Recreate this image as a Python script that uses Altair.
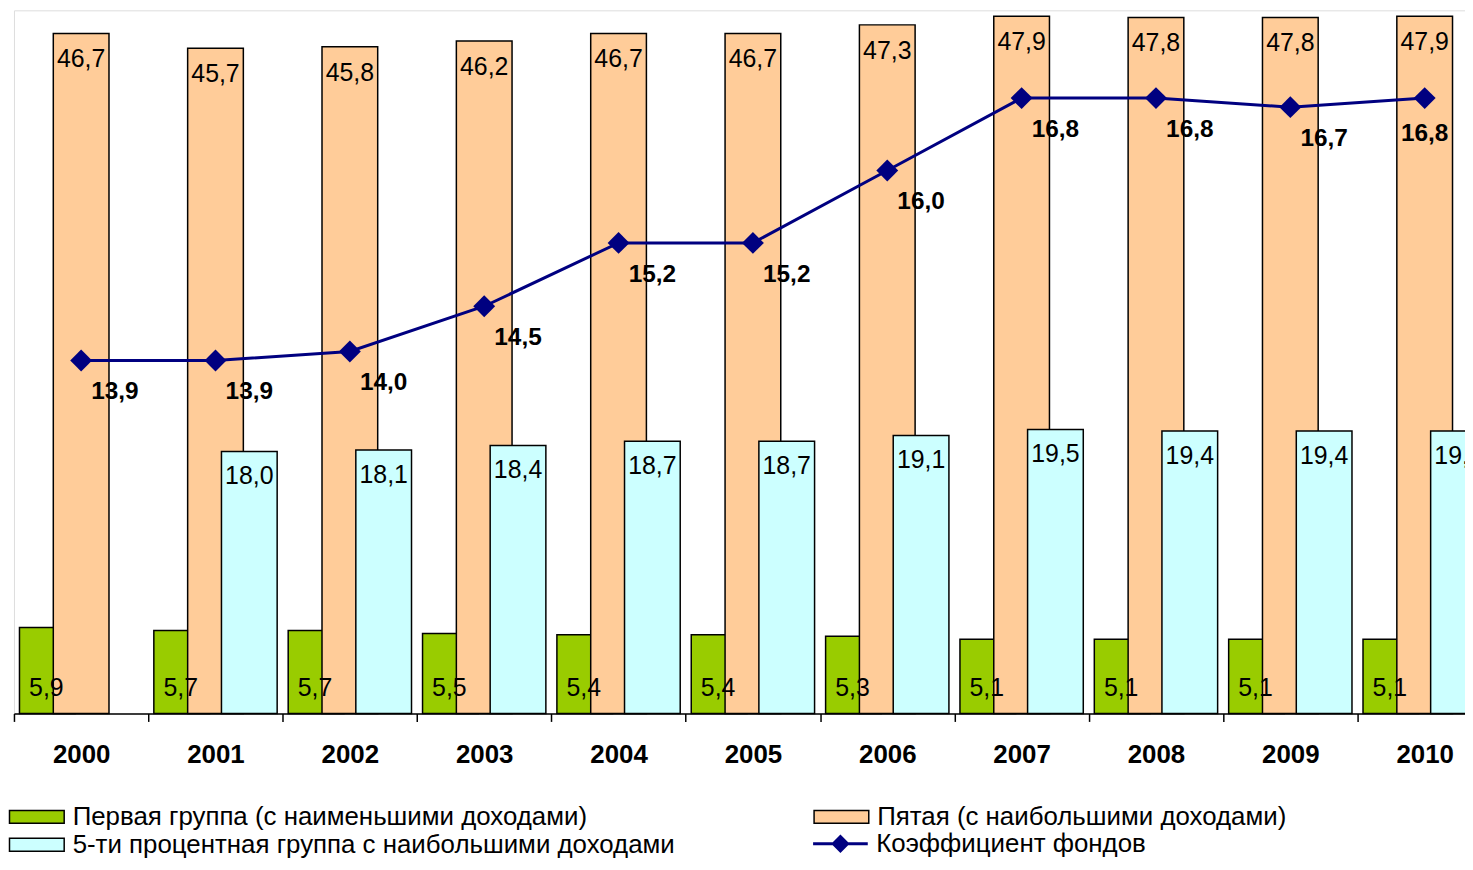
import altair as alt
import pandas as pd

years = ["2000", "2001", "2002", "2003", "2004", "2005", "2006", "2007", "2008", "2009", "2010"]
first_group = [5.9, 5.7, 5.7, 5.5, 5.4, 5.4, 5.3, 5.1, 5.1, 5.1, 5.1]
fifth_group = [46.7, 45.7, 45.8, 46.2, 46.7, 46.7, 47.3, 47.9, 47.8, 47.8, 47.9]
top5_group = [None, 18.0, 18.1, 18.4, 18.7, 18.7, 19.1, 19.5, 19.4, 19.4, 19.4]
fund_coef = [13.9, 13.9, 14.0, 14.5, 15.2, 15.2, 16.0, 16.8, 16.8, 16.7, 16.8]

S1 = "Первая группа (с наименьшими доходами)"
S5 = "Пятая (с наибольшими доходами)"
S5P = "5-ти процентная группа с наибольшими доходами"
LINE = "Коэффициент фондов"
# legend order (column-major grid): S1, S5P in column 1, S5 in column 2
legend_order = [S1, S5P, S5]
legend_colors = ["#99CC00", "#CCFFFF", "#FFCC99"]
NAVY = "#000080"
FONT = "Liberation Sans"


def fmt(v):
    return f"{v:.1f}".replace(".", ",")


rows = []
for s, vals in zip([S1, S5, S5P], [first_group, fifth_group, top5_group]):
    for yr, v in zip(years, vals):
        if v is None:
            continue
        rows.append({"year": yr, "series": s, "value": v, "label": fmt(v)})
bars = pd.DataFrame(rows)
line = pd.DataFrame({"year": years, "coef": fund_coef,
                     "label": [fmt(v) for v in fund_coef], "name": LINE})

x = alt.X("year:O", sort=years,
          scale=alt.Scale(paddingInner=0, paddingOuter=0, range=[0, 1486]),
          axis=alt.Axis(title=None, labelAngle=0, tickBand="extent",
                        domainColor="black", domainWidth=1.5,
                        tickColor="black", tickWidth=1.5, tickSize=8,
                        labelFont=FONT, labelFontSize=26, labelFontWeight="bold",
                        labelColor="black", labelPadding=20, grid=False))
ybar_scale = alt.Scale(domain=[0, 48.3], nice=False, zero=True)
ybar = alt.Y("value:Q", scale=ybar_scale, axis=None)
yline_scale = alt.Scale(domain=[10, 17.77], nice=False, zero=False)
yline = alt.Y("coef:Q", scale=yline_scale, axis=None)

# wide rectangle symbol drawn around a small nominal symbol size (13px)
RECT = "M-4.23,-1H4.23V1H-4.23Z"
LINE_SYM = "M-4.23,0H4.23M-1.1,0L0,-1.1L1.1,0L0,1.1Z"

fill = alt.Fill("series:N",
                scale=alt.Scale(domain=legend_order, range=legend_colors),
                legend=alt.Legend(title=None, orient="none", legendX=10, legendY=798,
                                  columns=2, columnPadding=136, rowPadding=2,
                                  symbolType=RECT, symbolSize=169,
                                  symbolStrokeColor="black", symbolStrokeWidth=1.5,
                                  labelFont=FONT, labelFontSize=26, labelColor="black",
                                  labelLimit=900, labelOffset=23, padding=0))

base = alt.Chart(bars)


def bar_layer(name, offset):
    return base.transform_filter(alt.datum.series == name).mark_bar(
        width=56, xOffset=offset, stroke="black", strokeWidth=1.5
    ).encode(x=x, y=ybar, fill=fill)


green = bar_layer(S1, -34)
orange = bar_layer(S5, 0)
cyan = bar_layer(S5P, 34)

txt = dict(font=FONT, fontSize=25, color="black", baseline="middle", align="center")
orange_lbl = base.transform_filter(alt.datum.series == S5).mark_text(dy=26, **txt).encode(
    x=x, y=ybar, text="label:N")
cyan_lbl = base.transform_filter(alt.datum.series == S5P).mark_text(dy=25, xOffset=34, **txt).encode(
    x=x, y=ybar, text="label:N")
green_lbl = base.transform_filter(alt.datum.series == S1).mark_text(dy=-26, xOffset=-35, **txt).encode(
    x=x, y=alt.Y(datum=0, scale=ybar_scale, axis=None), text="label:N")

lbase = alt.Chart(line)
line_mark = lbase.mark_line(strokeWidth=3).encode(
    x=x, y=yline,
    stroke=alt.Stroke("name:N", scale=alt.Scale(domain=[LINE], range=[NAVY]),
                      legend=alt.Legend(title=None, orient="none", legendX=818, legendY=825,
                                        symbolType=LINE_SYM,
                                        symbolSize=169, symbolFillColor=NAVY,
                                        symbolStrokeWidth=3,
                                        labelFont=FONT, labelFontSize=26, labelColor="black",
                                        labelLimit=900, labelOffset=23, padding=0)))
points = lbase.mark_point(shape="diamond", filled=True, size=484, color=NAVY, opacity=1).encode(
    x=x, y=yline)
ltxt = dict(font=FONT, fontSize=24.5, fontWeight="bold", color="black", baseline="middle", align="center")
line_lbl = lbase.transform_filter(alt.datum.year != "2010").mark_text(dx=34, dy=32, **ltxt).encode(
    x=x, y=yline, text="label:N")
line_lbl_last = lbase.transform_filter(alt.datum.year == "2010").mark_text(dx=0, dy=36, **ltxt).encode(
    x=x, y=yline, text="label:N")

chart = alt.layer(
    green, orange, cyan, green_lbl, orange_lbl, cyan_lbl,
    line_mark, points, line_lbl, line_lbl_last
).resolve_scale(y="independent").properties(
    width=1459, height=707,
    padding={"left": 6, "top": 0, "right": 0, "bottom": 143},
    autosize=alt.AutoSizeParams(type="none"),
).configure_view(stroke="transparent", strokeWidth=0).configure(background="white")

chart.save("out.html", embed_options={"renderer": "svg", "actions": False})
